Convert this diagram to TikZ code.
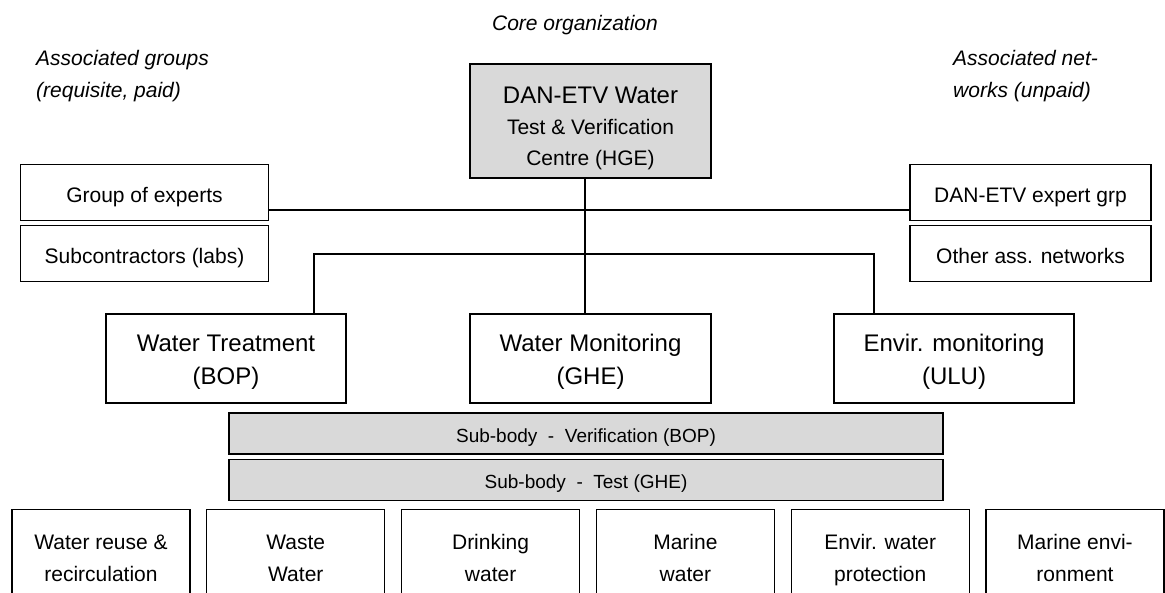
\documentclass[tikz,border=0pt]{standalone}
\usepackage{fontspec}
\setmainfont{Liberation Sans}
\usetikzlibrary{positioning}

\begin{document}
\begin{tikzpicture}[
    x=1pt, y=-1pt,
    node distance=4pt,
    box/.style={rectangle, draw, line width=1.2pt, align=center, inner sep=0pt, font=\fontsize{21}{32}\selectfont},
    unit/.style={box, minimum width=240pt, minimum height=89pt, text height=52pt, text depth=0pt, font=\fontsize{24}{33}\selectfont},
    side/.style={box, minimum width=248pt, minimum height=56pt, text height=20pt, text depth=0pt},
    sub/.style={box, fill=black!15, minimum width=714pt, minimum height=41pt, text height=17pt, text depth=0pt, font=\fontsize{19}{23}\selectfont},
    area/.style={box, anchor=north, minimum width=178pt, minimum height=96pt, text height=47pt, text depth=0pt},
    link/.style={line width=1.2pt},
    note/.style={font=\fontsize{21}{32}\selectfont\itshape, align=left, inner sep=0pt}
]
\useasboundingbox (0,0) rectangle (1165,592);

% Core organization
\node[box, fill=black!15, minimum width=241pt, minimum height=114pt, text height=89pt, text depth=0pt, font=\fontsize{21}{31}\selectfont] (core) at (590.5,121)
    {{\fontsize{24}{31}\selectfont DAN-ETV Water}\\Test \& Verification\\Centre (HGE)};
\node[note, align=center] (corelbl) at (575,25) {Core organization};

% Associated groups and networks
\node[side] (grpexp) at (144.5,192.5) {Group of experts};
\node[side, below=of grpexp] (subcon) {Subcontractors (labs)};
\node[side, minimum width=241pt] (danexp) at (1030.5,192.5) {DAN-ETV expert grp};
\node[side, minimum width=241pt, below=of danexp] (othnet) {Other ass. networks};
\node[note, anchor=west] (grplbl) at (36,76) {Associated groups\\(requisite, paid)};
\node[note, anchor=west] (netlbl) at (953,76) {Associated net-\\works (unpaid)};

% Units
\node[unit] (wt) at (226,358.5) {Water Treatment\\(BOP)};
\node[unit, minimum width=241pt] (wm) at (590.5,358.5) {Water Monitoring\\(GHE)};
\node[unit] (em) at (954,358.5) {Envir. monitoring\\(ULU)};

% Sub-bodies
\node[sub] (subver) at (586,433.5) {Sub-body\ \ -\ \ Verification (BOP)};
\node[sub, below=of subver] (subtest) {Sub-body\ \ -\ \ Test (GHE)};

% Areas
\foreach \txt [count=\i] in {{Water reuse \&\\recirculation}, {Waste\\Water}, {Drinking\\water},
    {Marine\\water}, {Envir. water\\protection}, {Marine envi-\\ronment}}
  \node[area] (area\i) at ({101+194.8*(\i-1)},509) {\txt};

% Connections
\coordinate (brl) at (314,254);
\coordinate (brr) at (874,254);
\draw[link] ([xshift=-5.5pt]core.south) -- ([xshift=-5.5pt]wm.north);
\draw[link] ([yshift=-17.5pt]grpexp.east) -- ([yshift=-17.5pt]danexp.west);
\draw[link] (brl |- wt.north) -- (brl) -- (brr) -- (brr |- em.north);
\end{tikzpicture}
\end{document}
